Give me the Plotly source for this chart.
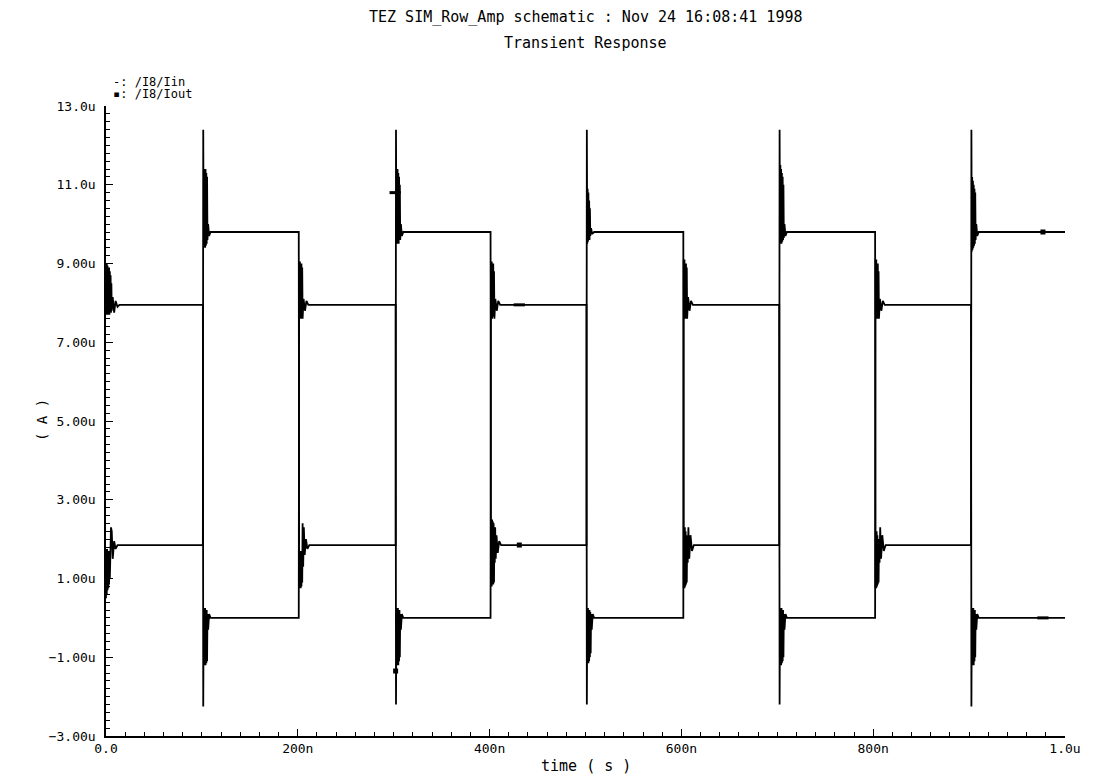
import plotly.graph_objects as go

# time in ns, current in uA
t_in = [0, 0.4, 0.8, 1.2, 1.6, 2.0, 2.4, 2.8, 3.2, 3.6, 4.0, 4.4, 4.8, 5.2, 5.6, 6.0, 7, 8.5, 10, 12, 14,
        101, 101.4, 101.8, 102.2, 102.6, 103, 103.4, 103.8, 104.2, 104.6, 105, 105.4, 105.8, 106.5, 107.5, 109,
        201, 201.4, 201.8, 202.2, 202.6, 203, 203.4, 203.8, 204.2, 204.6, 205, 206, 207.5, 209, 211,
        302, 302.4, 302.8, 303.2, 303.6, 304, 304.4, 304.8, 305.2, 305.6, 306, 306.4, 306.8, 307.5, 308.5, 310,
        401, 401.4, 401.8, 402.2, 402.6, 403, 403.4, 403.8, 404.2, 404.6, 405, 406, 407.5, 409, 411,
        501, 501.4, 501.8, 502.2, 502.6, 503, 503.4, 503.8, 504.2, 504.6, 505, 505.4, 505.8, 506.5, 507.5, 509,
        602, 602.4, 602.8, 603.2, 603.6, 604, 604.4, 604.8, 605.2, 605.6, 606, 607, 608.5, 610, 612,
        702, 702.4, 702.8, 703.2, 703.6, 704, 704.4, 704.8, 705.2, 705.6, 706, 706.4, 706.8, 707.5, 708.5, 710,
        802, 802.4, 802.8, 803.2, 803.6, 804, 804.4, 804.8, 805.2, 805.6, 806, 807, 808.5, 810, 812,
        902, 902.4, 902.8, 903.2, 903.6, 904, 904.4, 904.8, 905.2, 905.6, 906, 906.4, 906.8, 907.5, 908.5, 910,
        1003]
i_in = [9.0, 7.7, 9.0, 7.7, 8.95, 7.7, 8.9, 7.7, 8.9, 7.7, 8.8, 7.75, 8.7, 7.75, 8.5, 7.8, 8.15, 7.75, 8.05, 7.9, 7.95,
        7.95, -2.25, 0.25, -1.2, 0.25, -1.2, 0.25, -1.2, 0.2, -1.15, 0.2, -1.1, 0.1, -0.3, 0.1, 0.0,
        0.0, 9.05, 7.6, 9.05, 7.6, 9.0, 7.6, 9.0, 7.65, 8.9, 7.6, 8.1, 7.8, 8.05, 7.95,
        7.95, -2.2, 0.25, -1.2, 0.25, -1.2, 0.25, -1.2, 0.2, -1.1, 0.2, -1.0, 0.1, -0.3, 0.1, 0.0,
        0.0, 9.05, 7.6, 9.05, 7.6, 9.0, 7.65, 9.0, 7.65, 8.8, 7.6, 8.1, 7.8, 8.05, 7.95,
        7.95, -2.2, 0.25, -1.15, 0.25, -1.15, 0.2, -1.1, 0.2, -1.0, 0.15, -0.9, 0.1, -0.3, 0.1, 0.0,
        0.0, 9.1, 7.6, 9.1, 7.6, 9.0, 7.6, 9.0, 7.65, 8.9, 7.6, 8.15, 7.8, 8.05, 7.95,
        7.95, -2.2, 0.25, -1.2, 0.25, -1.2, 0.25, -1.15, 0.2, -1.1, 0.2, -1.0, 0.1, -0.3, 0.1, 0.0,
        0.0, 9.1, 7.6, 9.1, 7.6, 9.0, 7.6, 9.0, 7.65, 8.8, 7.6, 8.1, 7.8, 8.05, 7.95,
        7.95, -2.25, 0.25, -1.2, 0.25, -1.2, 0.25, -1.2, 0.2, -1.1, 0.2, -1.0, 0.1, -0.3, 0.1, 0.0,
        0.0]

t_out = [0, 0.4, 0.8, 1.2, 1.6, 2.0, 2.4, 2.8, 3.2, 3.6, 4.0, 4.5, 5.2, 6, 7, 8.5, 10, 12, 14,
         101, 101.4, 101.8, 102.2, 102.6, 103, 103.4, 103.8, 104.2, 104.6, 105, 105.4, 105.8, 106.5, 107.5, 109,
         201, 201.4, 201.8, 202.2, 202.6, 203, 203.4, 203.8, 204.2, 204.6, 205, 205.6, 206.3, 207.2, 208.5, 210, 212,
         302, 302.4, 302.8, 303.2, 303.6, 304, 304.4, 304.8, 305.2, 305.6, 306, 306.4, 306.8, 307.5, 308.5, 310,
         401, 401.4, 401.8, 402.2, 402.6, 403, 403.4, 403.8, 404.2, 404.6, 405, 405.4, 405.8, 406.4, 407.2, 408.5, 410, 412,
         501, 501.4, 501.8, 502.2, 502.6, 503, 503.4, 503.8, 504.2, 504.6, 505, 505.8, 507, 509,
         602, 602.4, 602.8, 603.2, 603.6, 604, 604.4, 604.8, 605.2, 605.6, 606, 606.6, 607.3, 608.2, 609.5, 611, 613,
         702, 702.4, 702.8, 703.2, 703.6, 704, 704.4, 704.8, 705.2, 705.6, 706, 706.4, 706.8, 707.5, 708.5, 710,
         802, 802.4, 802.8, 803.2, 803.6, 804, 804.4, 804.8, 805.2, 805.6, 806, 806.6, 807.3, 808.2, 809.5, 811, 813,
         902, 902.4, 902.8, 903.2, 903.6, 904, 904.4, 904.8, 905.2, 905.6, 906, 906.4, 906.8, 907.5, 908.5, 910,
         1003]
i_out = [0.5, 1.75, 0.6, 1.75, 0.7, 1.7, 0.75, 1.7, 0.85, 1.65, 1.0, 1.6, 2.3, 2.2, 1.5, 1.95, 1.75, 1.85, 1.85,
         1.85, 12.4, 9.4, 11.4, 9.4, 11.4, 9.4, 11.4, 9.45, 11.3, 9.5, 11.2, 9.6, 10.0, 9.7, 9.8,
         9.8, 0.75, 1.7, 0.75, 1.7, 0.75, 1.7, 0.8, 1.7, 0.9, 2.4, 1.3, 2.3, 1.6, 2.0, 1.75, 1.85,
         1.85, 12.4, 9.5, 11.4, 9.5, 11.4, 9.5, 11.3, 9.5, 11.2, 9.6, 11.0, 9.6, 10.0, 9.7, 9.8,
         9.8, 0.8, 2.5, 0.8, 2.5, 0.85, 2.45, 0.85, 2.4, 0.9, 2.3, 1.4, 2.3, 1.5, 2.1, 1.65, 1.95, 1.85,
         1.85, 12.4, 9.5, 10.9, 9.55, 10.8, 9.6, 10.6, 9.6, 10.4, 9.7, 9.9, 9.75, 9.8,
         9.8, 0.75, 2.3, 0.75, 2.3, 0.8, 2.2, 0.85, 2.1, 0.9, 2.0, 1.4, 2.3, 1.5, 2.1, 1.7, 1.85,
         1.85, 12.4, 9.5, 11.5, 9.5, 11.4, 9.5, 11.3, 9.55, 11.2, 9.6, 11.0, 9.65, 10.0, 9.7, 9.8,
         9.8, 0.75, 2.2, 0.75, 2.2, 0.8, 2.1, 0.85, 2.0, 0.9, 1.9, 1.4, 2.3, 1.5, 2.1, 1.7, 1.85,
         1.85, 12.4, 9.3, 11.2, 9.35, 11.1, 9.4, 11.0, 9.45, 10.9, 9.5, 10.8, 9.6, 10.0, 9.7, 9.8,
         9.8]

mk_in_t = [301.5, 431, 977]
mk_in_v = [10.8, 7.95, 0.0]
mk_out_t = [302, 431, 977]
mk_out_v = [-1.35, 1.85, 9.8]

x_ticks = [0, 200, 400, 600, 800, 1000]
x_text = ["0.0", "200n", "400n", "600n", "800n", "1.0u"]
y_ticks = [-3, -1, 1, 3, 5, 7, 9, 11, 13]
y_text = ["\u22123.00u", "\u22121.00u", "1.00u", "3.00u", "5.00u", "7.00u", "9.00u", "11.0u", "13.0u"]

FONT = "DejaVu Sans Mono"

fig = go.Figure()
fig.add_trace(go.Scatter(x=t_in, y=i_in, mode="lines", line=dict(color="black", width=1.8),
                         name="/I8/Iin", showlegend=False))
fig.add_trace(go.Scatter(x=t_out, y=i_out, mode="lines", line=dict(color="black", width=1.8),
                         name="/I8/Iout", showlegend=False))
fig.add_trace(go.Scatter(x=mk_in_t, y=mk_in_v, mode="markers",
                         marker=dict(symbol="line-ew", size=8, line=dict(color="black", width=3)),
                         showlegend=False))
fig.add_trace(go.Scatter(x=mk_out_t, y=mk_out_v, mode="markers",
                         marker=dict(symbol="square", size=5, color="black"),
                         showlegend=False))

fig.update_layout(
    width=1095, height=776,
    margin=dict(l=106, r=30, t=106, b=40),
    paper_bgcolor="white", plot_bgcolor="white",
    font=dict(family=FONT, color="black", size=13),
    xaxis=dict(range=[0, 1000], showgrid=False, zeroline=False, showline=True,
               linecolor="black", linewidth=1.5, ticks="inside", ticklen=7, tickwidth=1.3,
               tickcolor="black", tickvals=x_ticks, ticktext=x_text,
               tickfont=dict(family=FONT, size=13, color="black"),
               minor=dict(dtick=20, tick0=0, ticks="inside", ticklen=4, tickwidth=1, tickcolor="black")),
    yaxis=dict(range=[-3, 13], showgrid=False, zeroline=False, showline=True,
               linecolor="black", linewidth=1.5, ticks="inside", ticklen=7, tickwidth=1.3,
               tickcolor="black", tickvals=y_ticks, ticktext=y_text, ticklabelstandoff=6,
               tickfont=dict(family=FONT, size=13, color="black"),
               minor=dict(dtick=0.2, tick0=-3, ticks="inside", ticklen=4, tickwidth=1, tickcolor="black")),
    annotations=[
        dict(text="TEZ SIM_Row_Amp schematic : Nov 24 16:08:41 1998", xref="paper", yref="paper",
             x=0.5, y=(736 - 17) / 630, xanchor="center", yanchor="middle", showarrow=False,
             font=dict(family=FONT, size=15, color="black")),
        dict(text="Transient Response", xref="paper", yref="paper",
             x=0.5, y=(736 - 43) / 630, xanchor="center", yanchor="middle", showarrow=False,
             font=dict(family=FONT, size=15, color="black")),
        dict(text="-: /I8/Iin", xref="paper", yref="paper",
             x=(111 - 106) / 959, y=(736 - 82) / 630, xanchor="left", yanchor="middle", showarrow=False,
             font=dict(family=FONT, size=12, color="black")),
        dict(text="\u25aa: /I8/Iout", xref="paper", yref="paper",
             x=(111 - 106) / 959, y=(736 - 94) / 630, xanchor="left", yanchor="middle", showarrow=False,
             font=dict(family=FONT, size=12, color="black")),
        dict(text="time ( s )", xref="paper", yref="paper",
             x=0.5, y=(736 - 766) / 630, xanchor="center", yanchor="middle", showarrow=False,
             font=dict(family=FONT, size=15, color="black")),
        dict(text="( A )", xref="paper", yref="paper", textangle=-90,
             x=(42 - 106) / 959, y=(736 - 420) / 630, xanchor="center", yanchor="middle", showarrow=False,
             font=dict(family=FONT, size=14, color="black")),
    ],
)

fig.write_html("out.html", post_script="document.body.style.margin='0';",
               config={"displayModeBar": False})
